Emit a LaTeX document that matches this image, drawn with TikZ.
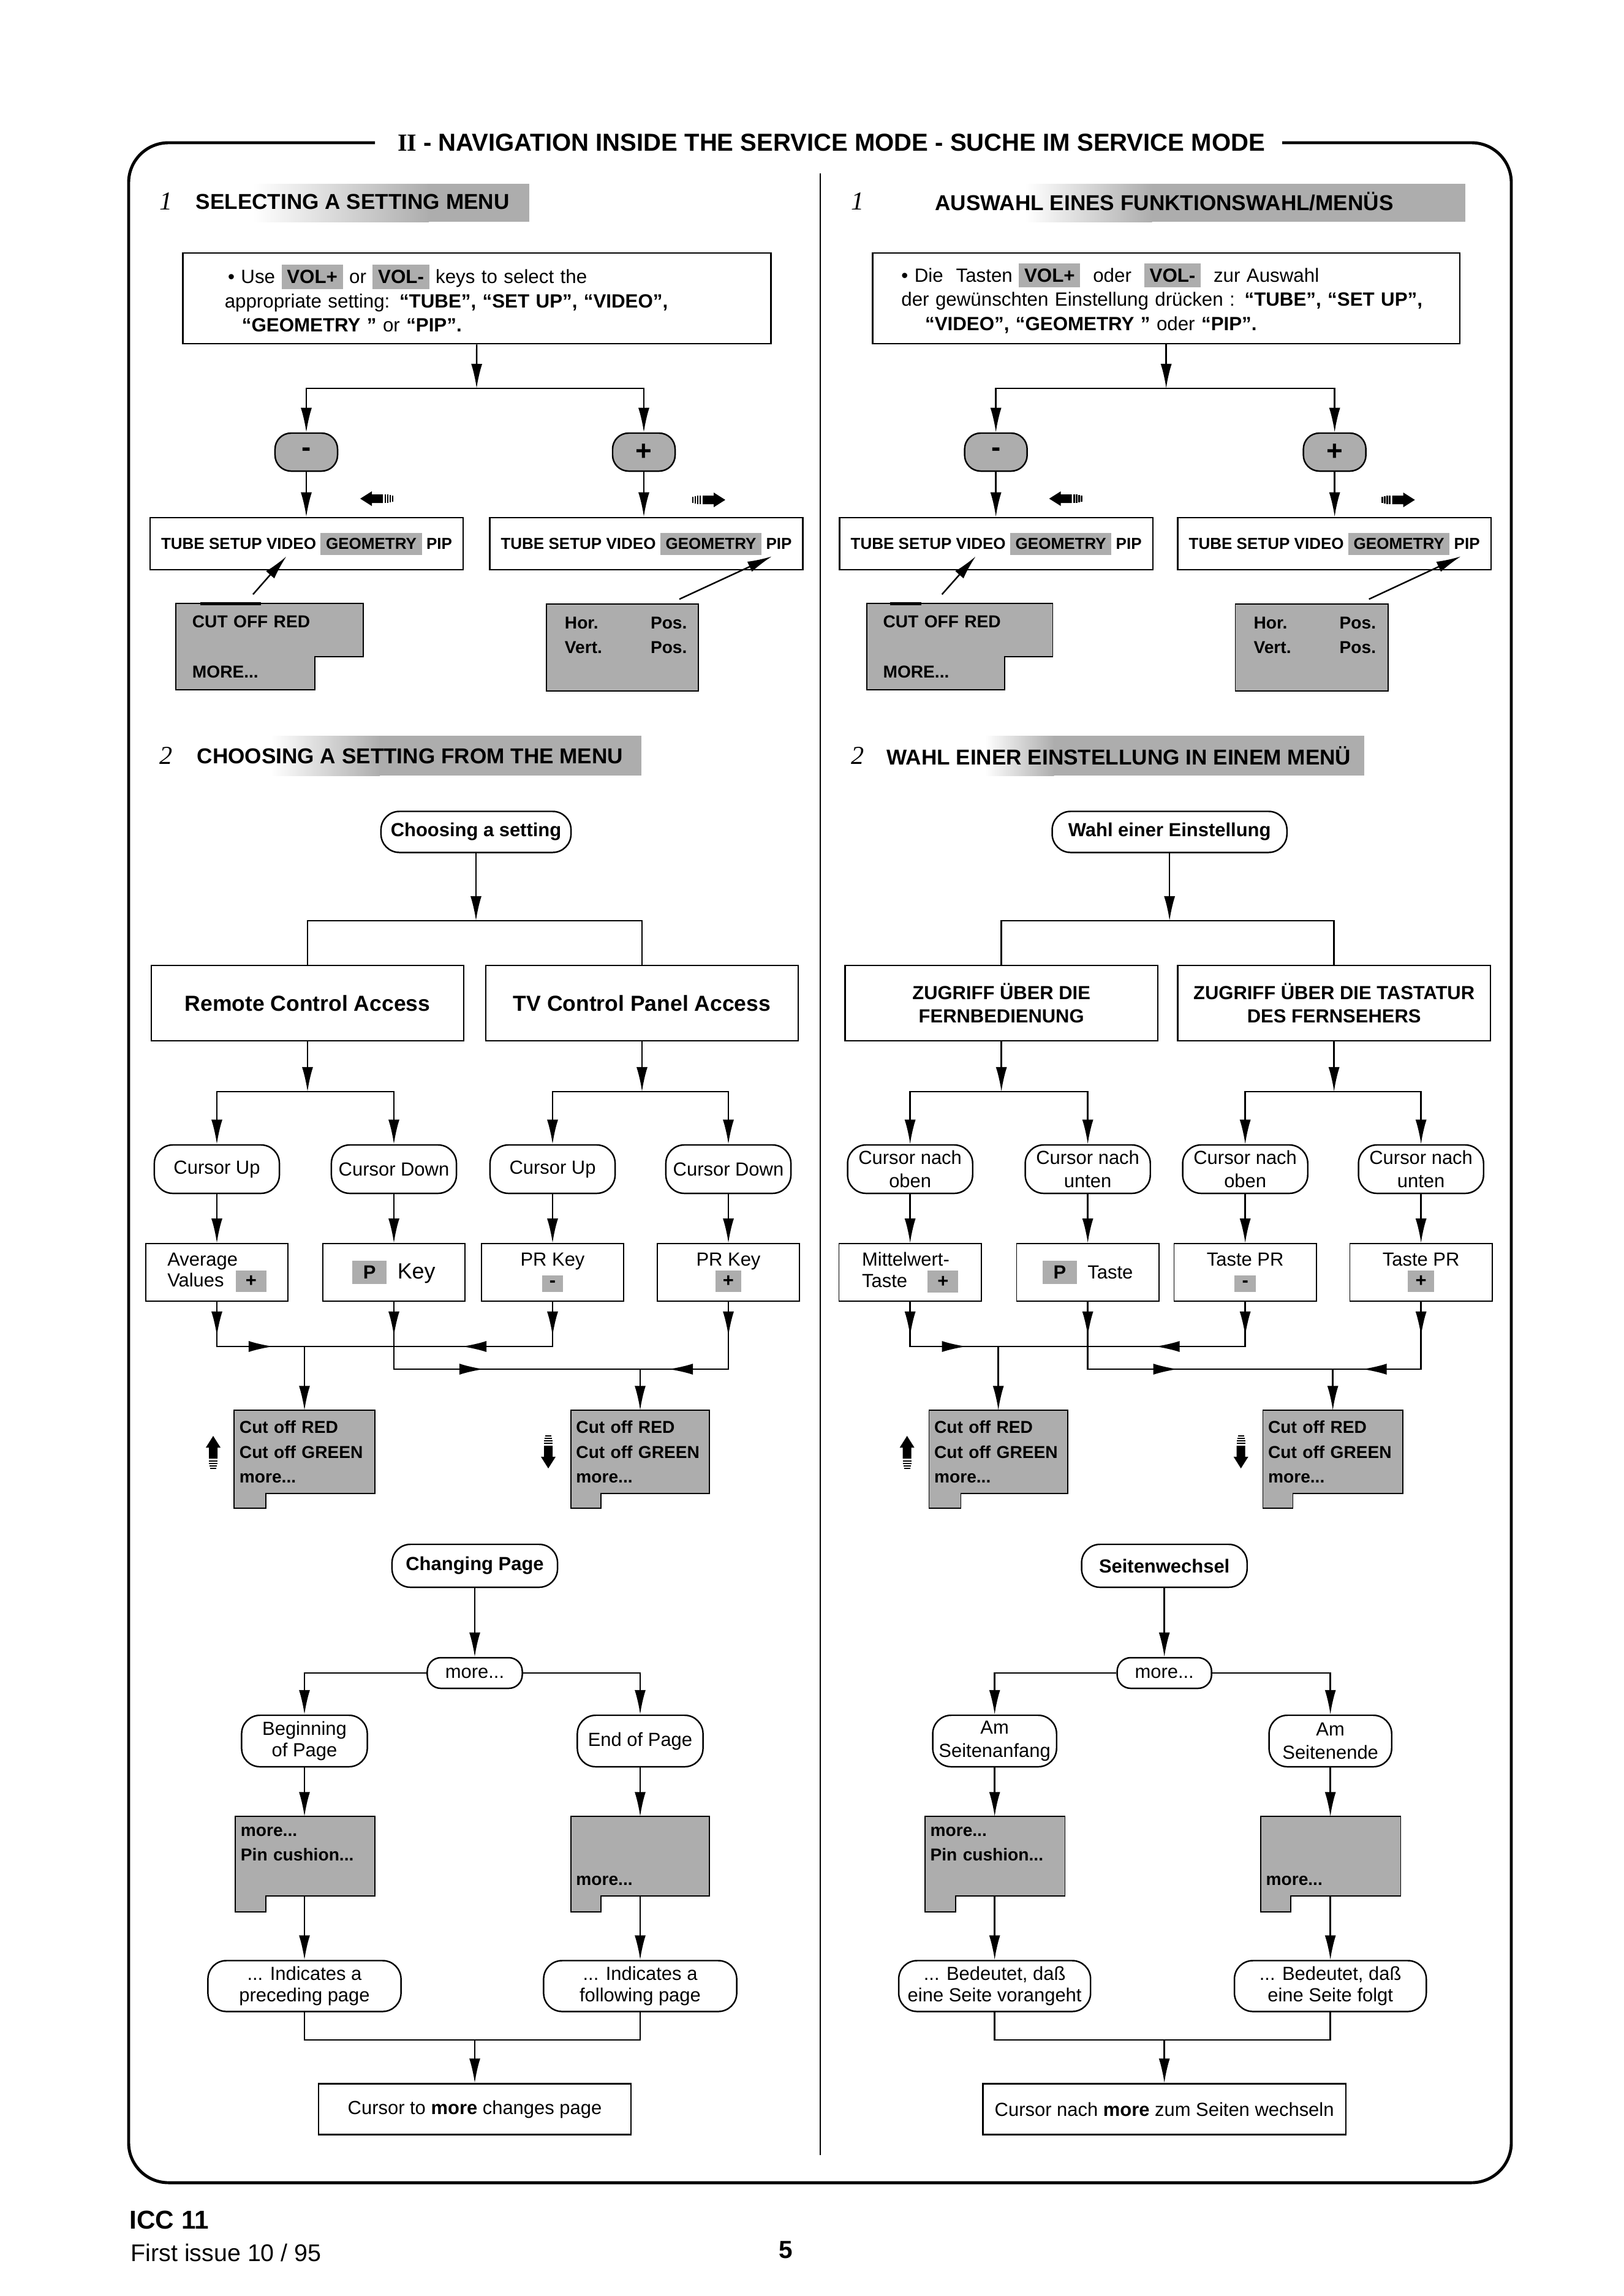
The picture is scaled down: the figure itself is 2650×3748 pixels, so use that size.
\documentclass[tikz,border=0pt]{standalone}
\usepackage{fontspec}
\setmainfont{Liberation Sans}
\newfontfamily\numfont{Liberation Serif}
\usetikzlibrary{arrows.meta, calc, backgrounds}

\definecolor{keygray}{gray}{0.68}
\newcommand{\hlkey}[1]{{\setlength{\fboxsep}{2.5pt}\colorbox{keygray}{#1}}}
% grey menu with a notch cut into its lower right corner
\newcommand{\notchmenu}[3]{%
  \filldraw[menufill] (#1.north west) -- (#1.north east) -- ($(#1.south east)+(0,-#3)$)
    -- ($(#1.south west)+(#2,-#3)$) -- ($(#1.south west)+(#2,0)$) -- (#1.south west) -- cycle;}
% grey menu with a small tab hanging below its left side
\newcommand{\tailmenu}[3]{%
  \filldraw[menufill] (#1.north west) -- (#1.north east) -- (#1.south east)
    -- ($(#1.south west)+(#2,0)$) -- ++(0,#3) -- ++(-#2,0) -- cycle;}

\begin{document}
\begin{tikzpicture}[
  x=0.01cm, y=-0.01cm,
  font=\fontsize{8.8}{9.8}\selectfont,
  box/.style={draw, line width=0.7pt, align=center, inner sep=0pt},
  keybox/.style={draw, line width=0.5pt, align=center, inner sep=0pt, minimum width=2.32cm, minimum height=0.94cm},
  pill/.style={draw, line width=0.7pt, rounded corners=3mm, align=center, inner sep=0pt},
  cursor/.style={pill, minimum width=2.04cm, minimum height=0.79cm},
  twoline/.style={font=\fontsize{8.8}{10.6}\selectfont},
  button/.style={draw, line width=0.7pt, fill=keygray, rounded corners=2.6mm, minimum width=1.02cm, minimum height=0.62cm, inner sep=0pt, font=\fontsize{13}{13}\selectfont\bfseries},
  tabbar/.style={box, minimum width=5.11cm, minimum height=0.85cm, font=\fontsize{7.4}{9}\selectfont\bfseries},
  menu/.style={align=left, inner xsep=0.08cm, inner ysep=0pt, font=\fontsize{8}{11.5}\selectfont\bfseries},
  menufill/.style={fill=keygray, draw, line width=0.5pt},
  access/.style={box, minimum width=5.1cm, minimum height=1.23cm, font=\fontsize{10.1}{12}\selectfont\bfseries},
  heading/.style={inner sep=0pt, font=\fontsize{10}{12}\selectfont\bfseries},
  secnum/.style={inner sep=0pt, font=\fontsize{12}{13}\selectfont\numfont\itshape},
  boldtext/.style={font=\fontsize{8.8}{9.8}\selectfont\bfseries},
  arrow/.style={-{Latex[length=4mm, width=1.8mm]}, line width=0.7pt},
  link/.style={line width=0.7pt},
  frame/.style={line width=1.4pt, rounded corners=6.5mm},
  hintarrow/.pic={
    \fill (27,0) -- (8,-12) -- (8,-7) -- (-10,-7) -- (-10,7) -- (8,7) -- (8,12) -- cycle;
    \draw[line width=0.7pt] (-14,-7) -- (-14,7) (-18,-7) -- (-18,7) (-22,-6) -- (-22,6) (-26,-5) -- (-26,5);
  }
]
\useasboundingbox (0,0) rectangle (2650,3748);

% frame and title
\node[inner sep=0pt, font=\fontsize{11.4}{13}\selectfont\bfseries] (title) at (1357,233) {{\numfont II} - NAVIGATION INSIDE THE SERVICE MODE - SUCHE IM SERVICE MODE};
\draw[frame] (612,233) -- (210,233) -- (210,3563) -- (2467,3563) -- (2467,233) -- (2093,233);
\draw[line width=0.5pt] (1339,283) -- (1339,3518);

% ================= English column =================
% 1 - selecting a setting menu
\shade[left color=white, right color=keygray] (413,300) rectangle (700,362);
\fill[keygray] (699,300) rectangle (864,362);
\node[secnum] (num1) at (271,329) {1};
\node[heading, anchor=west] (head1) at (319,329) {SELECTING A SETTING MENU};

\node[box, text width=8.23cm, inner xsep=0.68cm, minimum height=1.48cm, align=left, font=\fontsize{8.9}{11.3}\selectfont] (select) at (778.5,487) {%
  \hspace*{1.5pt}• Use \hlkey{\textbf{VOL+}} or \hlkey{\textbf{VOL-}} keys to select the\\
  appropriate setting: \textbf{“TUBE”, “SET UP”, “VIDEO”,}\\
  \hspace*{8pt}\textbf{“GEOMETRY ”} or \textbf{“PIP”.}};
\coordinate (split1) at (778,634);
\node[button] (minus) at (500,738) {-};
\node[button] (plus) at (1051,738) {+};
\pic[rotate=180] at (615,814) {hintarrow};
\pic at (1157,816) {hintarrow};
\node[tabbar] (tabL) at (500.5,887.5) {TUBE SETUP VIDEO \hlkey{GEOMETRY} PIP};
\node[tabbar] (tabR) at (1055,887.5) {TUBE SETUP VIDEO \hlkey{GEOMETRY} PIP};
\node[menu, text width=2.52cm, inner xsep=0.26cm, minimum height=1.39cm] (cutoff) at (440,1055.5) {CUT OFF RED\\[11.8pt]MORE...};
\node[menu, fill=keygray, draw, line width=0.5pt, text width=1.88cm, inner xsep=0.3cm, minimum height=1.42cm] (hvpos) at (1016,1057) {\makebox[1.4cm][l]{Hor.}Pos.\\\makebox[1.4cm][l]{Vert.}Pos.\\\mbox{}};

\draw[arrow] (select) -- (split1);
\draw[arrow] (split1) -| (minus);
\draw[arrow] (split1) -| (plus);
\draw[arrow] (minus) -- (minus |- tabL.north);
\draw[arrow] (plus) -- (plus |- tabR.north);
\draw[arrow] ($(cutoff.north)+(-27,-15)$) -- ($(tabL.south)+(-33,-23)$);
\draw[arrow] ($(hvpos.north)+(93,-7)$) -- ($(tabR.south)+(205,-23)$);

% 2 - choosing a setting from the menu
\shade[left color=white, right color=keygray] (442,1201) rectangle (620,1266);
\fill[keygray] (619,1201) rectangle (1047,1266);
\node[secnum] (num2) at (271,1234) {2};
\node[heading, anchor=west] (head2) at (321,1234) {CHOOSING A SETTING FROM THE MENU};

\node[pill, boldtext, minimum width=3.1cm, minimum height=0.67cm] (choose) at (777,1358) {Choosing a setting};
\coordinate (split2) at (777,1503);
\node[access] (remote) at (502,1637.5) {Remote Control Access};
\node[access] (panel) at (1048,1637.5) {TV Control Panel Access};
\draw[arrow] (choose) -- (split2);
\draw[link] (remote) |- (split2) -| (panel);

\coordinate (split3) at (502,1782);
\coordinate (split4) at (1048,1782);
\draw[arrow] (remote) -- (split3);
\draw[arrow] (panel) -- (split4);
\node[cursor] (up1) at (354,1908.5) {Cursor Up};
\node[cursor] (down1) at (643,1908.5) {Cursor Down};
\node[cursor] (up2) at (902,1908.5) {Cursor Up};
\node[cursor] (down2) at (1189,1908.5) {Cursor Down};
\draw[arrow] (split3) -| (up1);
\draw[arrow] (split3) -| (down1);
\draw[arrow] (split4) -| (up2);
\draw[arrow] (split4) -| (down2);

\node[keybox, align=left] (avg) at (354,2077) {Average\\Values\hspace{5.5pt}\hlkey{\hspace{2pt}\textbf{+}\hspace{2pt}}};
\node[keybox] (pkey) at (643,2077) {\hlkey{\hspace{2.5pt}\textbf{P}\hspace{2.5pt}}\hspace{5pt}{\fontsize{10.2}{11}\selectfont Key}};
\node[keybox] (prminus) at (902,2077) {PR Key\\\hlkey{\hspace{1pt}\textbf{-}\hspace{1pt}}};
\node[keybox] (prplus) at (1189,2077) {PR Key\\\hlkey{\hspace{1pt}\textbf{+}\hspace{1pt}}};
\draw[arrow] (up1) -- (avg);
\draw[arrow] (down1) -- (pkey);
\draw[arrow] (up2) -- (prminus);
\draw[arrow] (down2) -- (prplus);

\coordinate (merge1) at (497,2198);
\coordinate (merge2) at (1045,2235);
\draw[link] (avg) |- (merge1);
\draw[link] (prminus) |- (merge1);
\draw[link] (pkey) |- (merge2);
\draw[link] (prplus) |- (merge2);
\draw[arrow] (avg.south) -- ++(0,56);
\draw[arrow] (pkey.south) -- ++(0,56);
\draw[arrow] (prminus.south) -- ++(0,56);
\draw[arrow] (prplus.south) -- ++(0,56);
\draw[arrow] (avg.south |- merge1) -- ++(92,0);
\draw[arrow] (prminus.south |- merge1) -- ++(-148,0);
\draw[arrow] (pkey.south |- merge2) -- ++(147,0);
\draw[arrow] (prplus.south |- merge2) -- ++(-98,0);

\node[menu, text width=2.12cm, minimum height=1.34cm] (listup) at (497,2370) {Cut off RED\\Cut off GREEN\\more...};
\node[menu, text width=2.09cm, minimum height=1.34cm] (listdown) at (1045,2370) {Cut off RED\\Cut off GREEN\\more...};
\draw[arrow] (merge1) -- (listup);
\draw[arrow] (merge2) -- (listdown);
\pic[rotate=90] at (348,2371) {hintarrow};
\pic[rotate=-90] at (895,2370) {hintarrow};

% changing page
\node[pill, boldtext, minimum width=2.7cm, minimum height=0.7cm] (changing) at (775,2556) {Changing Page};
\node[pill, rounded corners=2.2mm, minimum width=1.55cm, minimum height=0.5cm] (more) at (775,2731) {more...};
\node[pill, minimum width=2.05cm, minimum height=0.84cm] (begin) at (497,2842) {Beginning\\of Page};
\node[pill, minimum width=2.05cm, minimum height=0.84cm] (endpage) at (1045,2842) {End of Page};
\draw[arrow] (changing) -- (more);
\draw[arrow] (more) -| (begin);
\draw[arrow] (more) -| (endpage);

\node[menu, text width=2.1cm, minimum height=1.28cm] (pagetop) at (498,3030) {more...\\Pin cushion...\\\mbox{}};
\node[menu, text width=2.09cm, minimum height=1.28cm] (pageend) at (1045,3030) {\mbox{}\\\mbox{}\\[4pt]more...};
\draw[arrow] (begin) -- (begin |- pagetop.north);
\draw[arrow] (endpage) -- (endpage |- pageend.north);
\node[pill, minimum width=3.15cm, minimum height=0.83cm] (preceding) at (497,3242) {... Indicates a\\preceding page};
\node[pill, minimum width=3.15cm, minimum height=0.83cm] (following) at (1045,3242) {... Indicates a\\following page};
\draw[arrow] (pagetop.south -| preceding) -- (preceding);
\draw[arrow] (pageend.south -| following) -- (following);
\coordinate (join) at (775,3330);
\draw[link] (preceding) |- (join) -| (following);
\node[box, minimum width=5.1cm, minimum height=0.83cm] (cursormore) at (775,3443) {Cursor to \textbf{more} changes page};
\draw[arrow] (join) -- (cursormore);

\begin{scope}[on background layer]
  \notchmenu{cutoff}{227}{54}
  \tailmenu{listup}{52}{24}
  \tailmenu{listdown}{49}{24}
  \tailmenu{pagetop}{50}{26}
  \tailmenu{pageend}{49}{26}
\end{scope}
\draw[line width=1.3pt] ($(cutoff.north west)+(40,0)$) -- ++(99,0);

% ================= German column =================
\begin{scope}[xshift=11.28cm]
% 1 - Auswahl eines Funktionswahlmenüs
\shade[left color=white, right color=keygray] (545,300) rectangle (752,362);
\fill[keygray] (751,300) rectangle (1263,362);
\node[secnum] (num1) at (271,329) {1};
\node[heading, anchor=west] (head1) at (397,329) {AUSWAHL EINES FUNKTIONSWAHL/MENÜS};

\node[box, text width=8.64cm, inner xsep=0.47cm, minimum height=1.48cm, align=left, font=\fontsize{8.9}{11.3}\selectfont] (select) at (775,487) {%
  • Die\ \ Tasten \hlkey{\textbf{VOL+}}\ \ oder\ \ \hlkey{\textbf{VOL-}}\ \ zur Auswahl\\
  der gewünschten Einstellung drücken : \textbf{“TUBE”, “SET UP”,}\\
  \hspace*{11pt}\textbf{“VIDEO”, “GEOMETRY ”} oder \textbf{“PIP”.}};
\coordinate (split1) at (775,634);
\node[button] (minus) at (497,738) {-};
\node[button] (plus) at (1050,738) {+};
\pic[rotate=180] at (611,814) {hintarrow};
\pic at (1154,816) {hintarrow};
\node[tabbar] (tabL) at (497.5,887.5) {TUBE SETUP VIDEO \hlkey{GEOMETRY} PIP};
\node[tabbar] (tabR) at (1049.5,887.5) {TUBE SETUP VIDEO \hlkey{GEOMETRY} PIP};
\node[menu, text width=2.5cm, inner xsep=0.26cm, minimum height=1.39cm] (cutoff) at (438,1055.5) {CUT OFF RED\\[11.8pt]MORE...};
\node[menu, fill=keygray, draw, line width=0.5pt, text width=1.89cm, inner xsep=0.3cm, minimum height=1.42cm] (hvpos) at (1012.5,1057) {\makebox[1.4cm][l]{Hor.}Pos.\\\makebox[1.4cm][l]{Vert.}Pos.\\\mbox{}};

\draw[arrow] (select) -- (split1);
\draw[arrow] (split1) -| (minus);
\draw[arrow] (split1) -| (plus);
\draw[arrow] (minus) -- (minus |- tabL.north);
\draw[arrow] (plus) -- (plus |- tabR.north);
\draw[arrow] ($(cutoff.north)+(-29,-15)$) -- ($(tabL.south)+(-33.5,-23)$);
\draw[arrow] ($(hvpos.north)+(93.5,-7)$) -- ($(tabR.south)+(206.5,-23)$);

% 2 - Wahl einer Einstellung in einem Menü
\shade[left color=white, right color=keygray] (479,1201) rectangle (592,1266);
\fill[keygray] (591,1201) rectangle (1098,1266);
\node[secnum] (num2) at (271,1234) {2};
\node[heading, anchor=west] (head2) at (318,1234) {WAHL EINER EINSTELLUNG IN EINEM MENÜ};

\node[pill, boldtext, minimum width=3.83cm, minimum height=0.67cm] (choose) at (780.5,1358) {Wahl einer Einstellung};
\coordinate (split2) at (780.5,1503);
\node[access, font=\fontsize{8.8}{11}\selectfont\bfseries] (remote) at (506,1637.5) {ZUGRIFF ÜBER DIE\\FERNBEDIENUNG};
\node[access, font=\fontsize{8.8}{11}\selectfont\bfseries] (panel) at (1049,1637.5) {ZUGRIFF ÜBER DIE TASTATUR\\DES FERNSEHERS};
\draw[arrow] (choose) -- (split2);
\draw[link] (remote) |- (split2) -| (panel);

\coordinate (split3) at (506,1782);
\coordinate (split4) at (1049,1782);
\draw[arrow] (remote) -- (split3);
\draw[arrow] (panel) -- (split4);
\node[cursor, twoline] (up1) at (357,1908.5) {Cursor nach\\oben};
\node[cursor, twoline] (down1) at (647,1908.5) {Cursor nach\\unten};
\node[cursor, twoline] (up2) at (904,1908.5) {Cursor nach\\oben};
\node[cursor, twoline] (down2) at (1191,1908.5) {Cursor nach\\unten};
\draw[arrow] (split3) -| (up1);
\draw[arrow] (split3) -| (down1);
\draw[arrow] (split4) -| (up2);
\draw[arrow] (split4) -| (down2);

\node[keybox, align=left] (avg) at (357,2077) {Mittelwert-\\Taste\hspace{9.5pt}\hlkey{\hspace{2pt}\textbf{+}\hspace{2pt}}};
\node[keybox] (pkey) at (647,2077) {\hlkey{\hspace{2.5pt}\textbf{P}\hspace{2.5pt}}\hspace{5pt}Taste};
\node[keybox] (prminus) at (904,2077) {Taste PR\\\hlkey{\hspace{1pt}\textbf{-}\hspace{1pt}}};
\node[keybox] (prplus) at (1191,2077) {Taste PR\\\hlkey{\hspace{1pt}\textbf{+}\hspace{1pt}}};
\draw[arrow] (up1) -- (avg);
\draw[arrow] (down1) -- (pkey);
\draw[arrow] (up2) -- (prminus);
\draw[arrow] (down2) -- (prplus);

\coordinate (merge1) at (501,2198);
\coordinate (merge2) at (1047,2235);
\draw[link] (avg) |- (merge1);
\draw[link] (prminus) |- (merge1);
\draw[link] (pkey) |- (merge2);
\draw[link] (prplus) |- (merge2);
\draw[arrow] (avg.south) -- ++(0,56);
\draw[arrow] (pkey.south) -- ++(0,56);
\draw[arrow] (prminus.south) -- ++(0,56);
\draw[arrow] (prplus.south) -- ++(0,56);
\draw[arrow] (avg.south |- merge1) -- ++(92,0);
\draw[arrow] (prminus.south |- merge1) -- ++(-147,0);
\draw[arrow] (pkey.south |- merge2) -- ++(147,0);
\draw[arrow] (prplus.south |- merge2) -- ++(-96,0);

\node[menu, text width=2.09cm, minimum height=1.34cm] (listup) at (501,2370) {Cut off RED\\Cut off GREEN\\more...};
\node[menu, text width=2.11cm, minimum height=1.34cm] (listdown) at (1047,2370) {Cut off RED\\Cut off GREEN\\more...};
\draw[arrow] (merge1) -- (listup);
\draw[arrow] (merge2) -- (listdown);
\pic[rotate=90] at (352,2371) {hintarrow};
\pic[rotate=-90] at (897,2370) {hintarrow};

% Seitenwechsel
\node[pill, boldtext, minimum width=2.7cm, minimum height=0.7cm] (changing) at (772,2556) {Seitenwechsel};
\node[pill, rounded corners=2.2mm, minimum width=1.54cm, minimum height=0.5cm] (more) at (772,2731) {more...};
\node[pill, twoline, minimum width=2.02cm, minimum height=0.84cm] (begin) at (495,2842) {Am\\Seitenanfang};
\node[pill, twoline, minimum width=2.0cm, minimum height=0.84cm] (endpage) at (1043,2842) {Am\\Seitenende};
\draw[arrow] (changing) -- (more);
\draw[arrow] (more) -| (begin);
\draw[arrow] (more) -| (endpage);

\node[menu, text width=2.11cm, minimum height=1.28cm] (pagetop) at (495.5,3030) {more...\\Pin cushion...\\\mbox{}};
\node[menu, text width=2.11cm, minimum height=1.28cm] (pageend) at (1043.5,3030) {\mbox{}\\\mbox{}\\[4pt]more...};
\draw[arrow] (begin) -- (begin |- pagetop.north);
\draw[arrow] (endpage) -- (endpage |- pageend.north);
\node[pill, minimum width=3.13cm, minimum height=0.83cm] (preceding) at (495,3242) {... Bedeutet, daß\\eine Seite vorangeht};
\node[pill, minimum width=3.13cm, minimum height=0.83cm] (following) at (1043,3242) {... Bedeutet, daß\\eine Seite folgt};
\draw[arrow] (pagetop.south -| preceding) -- (preceding);
\draw[arrow] (pageend.south -| following) -- (following);
\coordinate (join) at (772,3330);
\draw[link] (preceding) |- (join) -| (following);
\node[box, minimum width=5.92cm, minimum height=0.83cm] (cursormore) at (772,3443) {Cursor nach \textbf{more} zum Seiten wechseln};
\draw[arrow] (join) -- (cursormore);

\begin{scope}[on background layer]
  \notchmenu{cutoff}{225}{54}
  \tailmenu{listup}{52}{24}
  \tailmenu{listdown}{49}{24}
  \tailmenu{pagetop}{50}{26}
  \tailmenu{pageend}{49}{26}
\end{scope}
\draw[line width=1.3pt] ($(cutoff.north west)+(38,0)$) -- ++(51,0);
\end{scope}

% footer
\node[anchor=west, inner sep=0pt, font=\fontsize{12}{14}\selectfont\bfseries] (icc) at (211,3624) {ICC 11};
\node[anchor=west, inner sep=0pt, font=\fontsize{11.2}{13}\selectfont] (issue) at (213,3677) {First issue 10 / 95};
\node[inner sep=0pt, font=\fontsize{11.5}{13}\selectfont\bfseries] (page) at (1283,3673) {5};
\end{tikzpicture}
\end{document}
